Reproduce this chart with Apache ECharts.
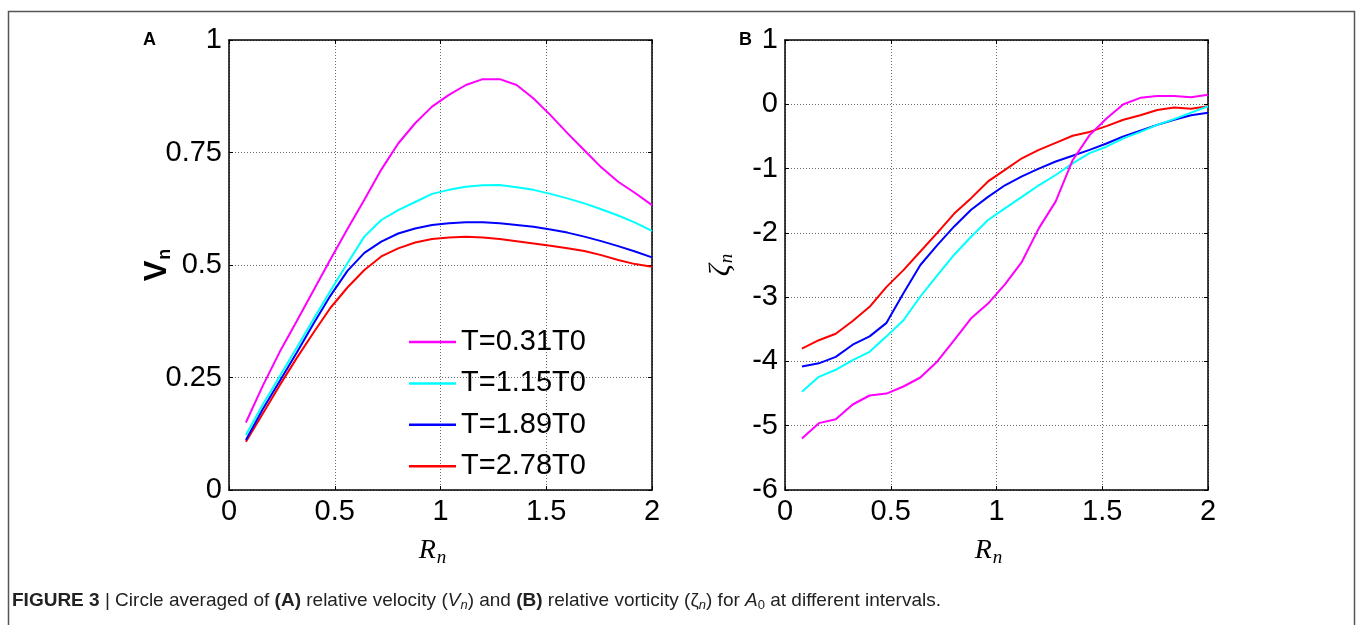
<!DOCTYPE html>
<html>
<head>
<meta charset="utf-8">
<script src="https://cdn.jsdelivr.net/npm/echarts@6/dist/echarts.min.js"></script>
<style>
html,body{margin:0;padding:0;background:#fff;}
#chart{width:1358px;height:625px;}
</style>
</head>
<body>
<div id="chart"></div>
<script>
// ---- data ----
const seriesNames = ['T=0.31T0', 'T=1.15T0', 'T=1.89T0', 'T=2.78T0'];
const seriesColors = ['#ff00ff', '#00ffff', '#0000ff', '#ff0000'];
const rn = [0.08, 0.16, 0.24, 0.32, 0.40, 0.48, 0.56, 0.64, 0.72, 0.80, 0.88, 0.96, 1.04,
            1.12, 1.20, 1.28, 1.36, 1.44, 1.52, 1.60, 1.68, 1.76, 1.84, 1.92, 2.00];

// Panel A: relative velocity V_n
const vA1 = [0.150, 0.232, 0.307, 0.375, 0.444, 0.513, 0.580, 0.645, 0.712, 0.770, 0.815, 0.852, 0.878,
             0.900, 0.913, 0.913, 0.900, 0.870, 0.833, 0.793, 0.755, 0.717, 0.685, 0.660, 0.633];
const vA2 = [0.122, 0.190, 0.253, 0.316, 0.380, 0.443, 0.504, 0.563, 0.600, 0.622, 0.640, 0.658, 0.667,
             0.674, 0.677, 0.678, 0.673, 0.667, 0.658, 0.648, 0.637, 0.624, 0.610, 0.594, 0.576];
const vA3 = [0.111, 0.180, 0.242, 0.305, 0.370, 0.432, 0.487, 0.527, 0.552, 0.570, 0.581, 0.589, 0.593,
             0.595, 0.595, 0.593, 0.589, 0.585, 0.579, 0.572, 0.563, 0.553, 0.542, 0.530, 0.517];
const vA4 = [0.107, 0.170, 0.233, 0.293, 0.350, 0.405, 0.450, 0.489, 0.519, 0.537, 0.550, 0.558, 0.561,
             0.563, 0.561, 0.558, 0.553, 0.548, 0.543, 0.537, 0.531, 0.522, 0.511, 0.502, 0.496];

// Panel B: relative vorticity zeta_n
const zB1 = [-5.20, -4.96, -4.90, -4.67, -4.53, -4.50, -4.39, -4.25, -4.00, -3.67, -3.33, -3.10, -2.80,
             -2.45, -1.93, -1.51, -0.87, -0.48, -0.22, 0.00, 0.10, 0.13, 0.13, 0.11, 0.15];
const zB2 = [-4.47, -4.24, -4.13, -3.98, -3.85, -3.61, -3.36, -2.99, -2.66, -2.34, -2.06, -1.80, -1.62,
             -1.44, -1.26, -1.10, -0.92, -0.76, -0.66, -0.53, -0.43, -0.32, -0.23, -0.13, -0.03];
const zB3 = [-4.08, -4.03, -3.93, -3.74, -3.61, -3.40, -2.94, -2.50, -2.19, -1.90, -1.64, -1.44, -1.26,
             -1.12, -1.00, -0.89, -0.80, -0.71, -0.61, -0.50, -0.41, -0.32, -0.24, -0.17, -0.13];
const zB4 = [-3.80, -3.67, -3.57, -3.37, -3.15, -2.84, -2.58, -2.29, -2.00, -1.70, -1.46, -1.20, -1.02,
             -0.84, -0.71, -0.60, -0.49, -0.43, -0.34, -0.24, -0.17, -0.09, -0.05, -0.07, -0.03];

const panelAData = [vA1, vA2, vA3, vA4];
const panelBData = [zB1, zB2, zB3, zB4];

// ---- chart ----
const chart = echarts.init(document.getElementById('chart'), null, {renderer: 'canvas'});
const FONT = '"Liberation Sans", Arial, sans-serif';
const SERIF = '"Liberation Serif", "DejaVu Serif", serif';
const CAP = '"Liberation Sans Narrow", "Liberation Sans", Arial, sans-serif';

function pairs(ys) { return rn.map((x, i) => [x, ys[i]]); }

const gridCommon = {top: 40, height: 450, width: 423};
const lineCol = '#000';

function xAxisPair(gi) {
  return [
    {
      gridIndex: gi, type: 'value', min: 0, max: 2, interval: 0.5, position: 'bottom',
      axisLine: {show: true, onZero: false, lineStyle: {color: lineCol, width: 1.5}},
      axisTick: {show: true, inside: true, length: 4, lineStyle: {color: lineCol, width: 1}},
      axisLabel: {show: true, color: '#000', fontSize: 29, fontFamily: FONT, margin: 7},
      splitLine: {show: true, lineStyle: {color: '#6a6a6a', type: [1, 2], width: 1}},
      name: '{r|R}{s|n}', nameLocation: 'middle', nameGap: 47, nameMoveOverlap: false,
      nameTextStyle: {
        padding: [0, 16, 0, 0],
        rich: {
          r: {fontFamily: SERIF, fontStyle: 'italic', fontSize: 28, color: '#000', lineHeight: 30, verticalAlign: 'top'},
          s: {fontFamily: SERIF, fontStyle: 'italic', fontSize: 19, color: '#000', lineHeight: 22, verticalAlign: 'bottom', padding: [14, 0, 0, 1]}
        }
      }
    },
    {
      gridIndex: gi, type: 'value', min: 0, max: 2, interval: 0.5, position: 'top',
      axisLine: {show: true, onZero: false, lineStyle: {color: lineCol, width: 1.5}},
      axisTick: {show: true, inside: true, length: 4, lineStyle: {color: lineCol, width: 1}},
      axisLabel: {show: false}, splitLine: {show: false}
    }
  ];
}

function yAxisPair(gi, min, max, interval, name, nameGap, rich) {
  return [
    {
      gridIndex: gi, type: 'value', min: min, max: max, interval: interval, position: 'left',
      axisLine: {show: true, onZero: false, lineStyle: {color: lineCol, width: 1.5}},
      axisTick: {show: true, inside: true, length: 4, lineStyle: {color: lineCol, width: 1}},
      axisLabel: {show: true, color: '#000', fontSize: 29, fontFamily: FONT, margin: 7},
      splitLine: {show: true, lineStyle: {color: '#6a6a6a', type: [1, 2], width: 1}},
      name: name, nameLocation: 'middle', nameGap: nameGap, nameRotate: 90, nameMoveOverlap: false,
      nameTextStyle: {rich: rich}
    },
    {
      gridIndex: gi, type: 'value', min: min, max: max, interval: interval, position: 'right',
      axisLine: {show: true, onZero: false, lineStyle: {color: lineCol, width: 1.5}},
      axisTick: {show: true, inside: true, length: 4, lineStyle: {color: lineCol, width: 1}},
      axisLabel: {show: false}, splitLine: {show: false}
    }
  ];
}

const series = [];
seriesNames.forEach((nm, i) => {
  series.push({
    name: nm, type: 'line', xAxisIndex: 0, yAxisIndex: 0, data: pairs(panelAData[i]),
    showSymbol: false, symbol: 'none', smooth: false,
    lineStyle: {color: seriesColors[i], width: 2}, itemStyle: {color: seriesColors[i]},
    z: 10 - i, animation: false
  });
});
seriesNames.forEach((nm, i) => {
  series.push({
    name: nm, type: 'line', xAxisIndex: 2, yAxisIndex: 2, data: pairs(panelBData[i]),
    showSymbol: false, symbol: 'none', smooth: false,
    lineStyle: {color: seriesColors[i], width: 2}, itemStyle: {color: seriesColors[i]},
    z: 10 - i, animation: false
  });
});

const option = {
  backgroundColor: '#fff',
  animation: false,
  grid: [
    Object.assign({left: 229}, gridCommon),
    Object.assign({left: 785}, gridCommon)
  ],
  xAxis: [].concat(xAxisPair(0), xAxisPair(1)),
  yAxis: [].concat(
    yAxisPair(0, 0, 1, 0.25, '{v|V}{s|n}', 55, {
      v: {fontFamily: FONT, fontWeight: 'bold', fontSize: 31, color: '#000', lineHeight: 32, verticalAlign: 'top'},
      s: {fontFamily: FONT, fontWeight: 'bold', fontSize: 18, color: '#000', lineHeight: 20, verticalAlign: 'bottom', padding: [12, 0, 0, 1]}
    }),
    yAxisPair(1, -6, 1, 1, '{z|ζ}{s|n}', 49, {
      z: {fontFamily: SERIF, fontStyle: 'italic', fontSize: 30, color: '#000', lineHeight: 30, verticalAlign: 'top'},
      s: {fontFamily: SERIF, fontStyle: 'italic', fontSize: 19, color: '#000', lineHeight: 22, verticalAlign: 'bottom', padding: [12, 0, 0, 1]}
    })
  ),
  legend: {
    show: true, orient: 'vertical', left: 409, top: 327,
    data: seriesNames.map(n => ({name: n, icon: 'rect'})),
    itemWidth: 47, itemHeight: 2.5, itemGap: 11.4,
    textStyle: {fontFamily: FONT, fontSize: 29, color: '#000', lineHeight: 30},
    selectedMode: false, backgroundColor: 'transparent', padding: 0
  },
  graphic: [
    {type: 'rect', shape: {x: 8.5, y: 11.5, width: 1346, height: 700}, style: {fill: 'none', stroke: '#555', lineWidth: 1.5}, silent: true},
    {type: 'text', left: 143, top: 31, style: {text: 'A', font: 'bold 18px "Liberation Sans", Arial, sans-serif', fill: '#000'}},
    {type: 'text', left: 739, top: 31, style: {text: 'B', font: 'bold 18px "Liberation Sans", Arial, sans-serif', fill: '#000'}},
    {
      type: 'text', left: 12, top: 591,
      style: {
        text: '{b|FIGURE 3}{n| | Circle averaged of }{b|(A)}{n| relative velocity (}{i|V}{si|n}{n|) and }{b|(B)}{n| relative vorticity (ζ}{si|n}{n|) for }{i|A}{su|0}{n| at different intervals.}',
        rich: {
          b: {fontFamily: CAP, fontWeight: 'bold', fontSize: 19, fill: '#222', lineHeight: 22, verticalAlign: 'middle'},
          n: {fontFamily: CAP, fontSize: 19, fill: '#222', lineHeight: 22, verticalAlign: 'middle'},
          i: {fontFamily: CAP, fontStyle: 'italic', fontSize: 19, fill: '#222', lineHeight: 22, verticalAlign: 'middle'},
          si: {fontFamily: CAP, fontStyle: 'italic', fontSize: 13, fill: '#222', lineHeight: 11, verticalAlign: 'bottom'},
          su: {fontFamily: CAP, fontSize: 13, fill: '#222', lineHeight: 11, verticalAlign: 'bottom'}
        }
      }
    }
  ],
  series: series
};
chart.setOption(option);
</script>
</body>
</html>
